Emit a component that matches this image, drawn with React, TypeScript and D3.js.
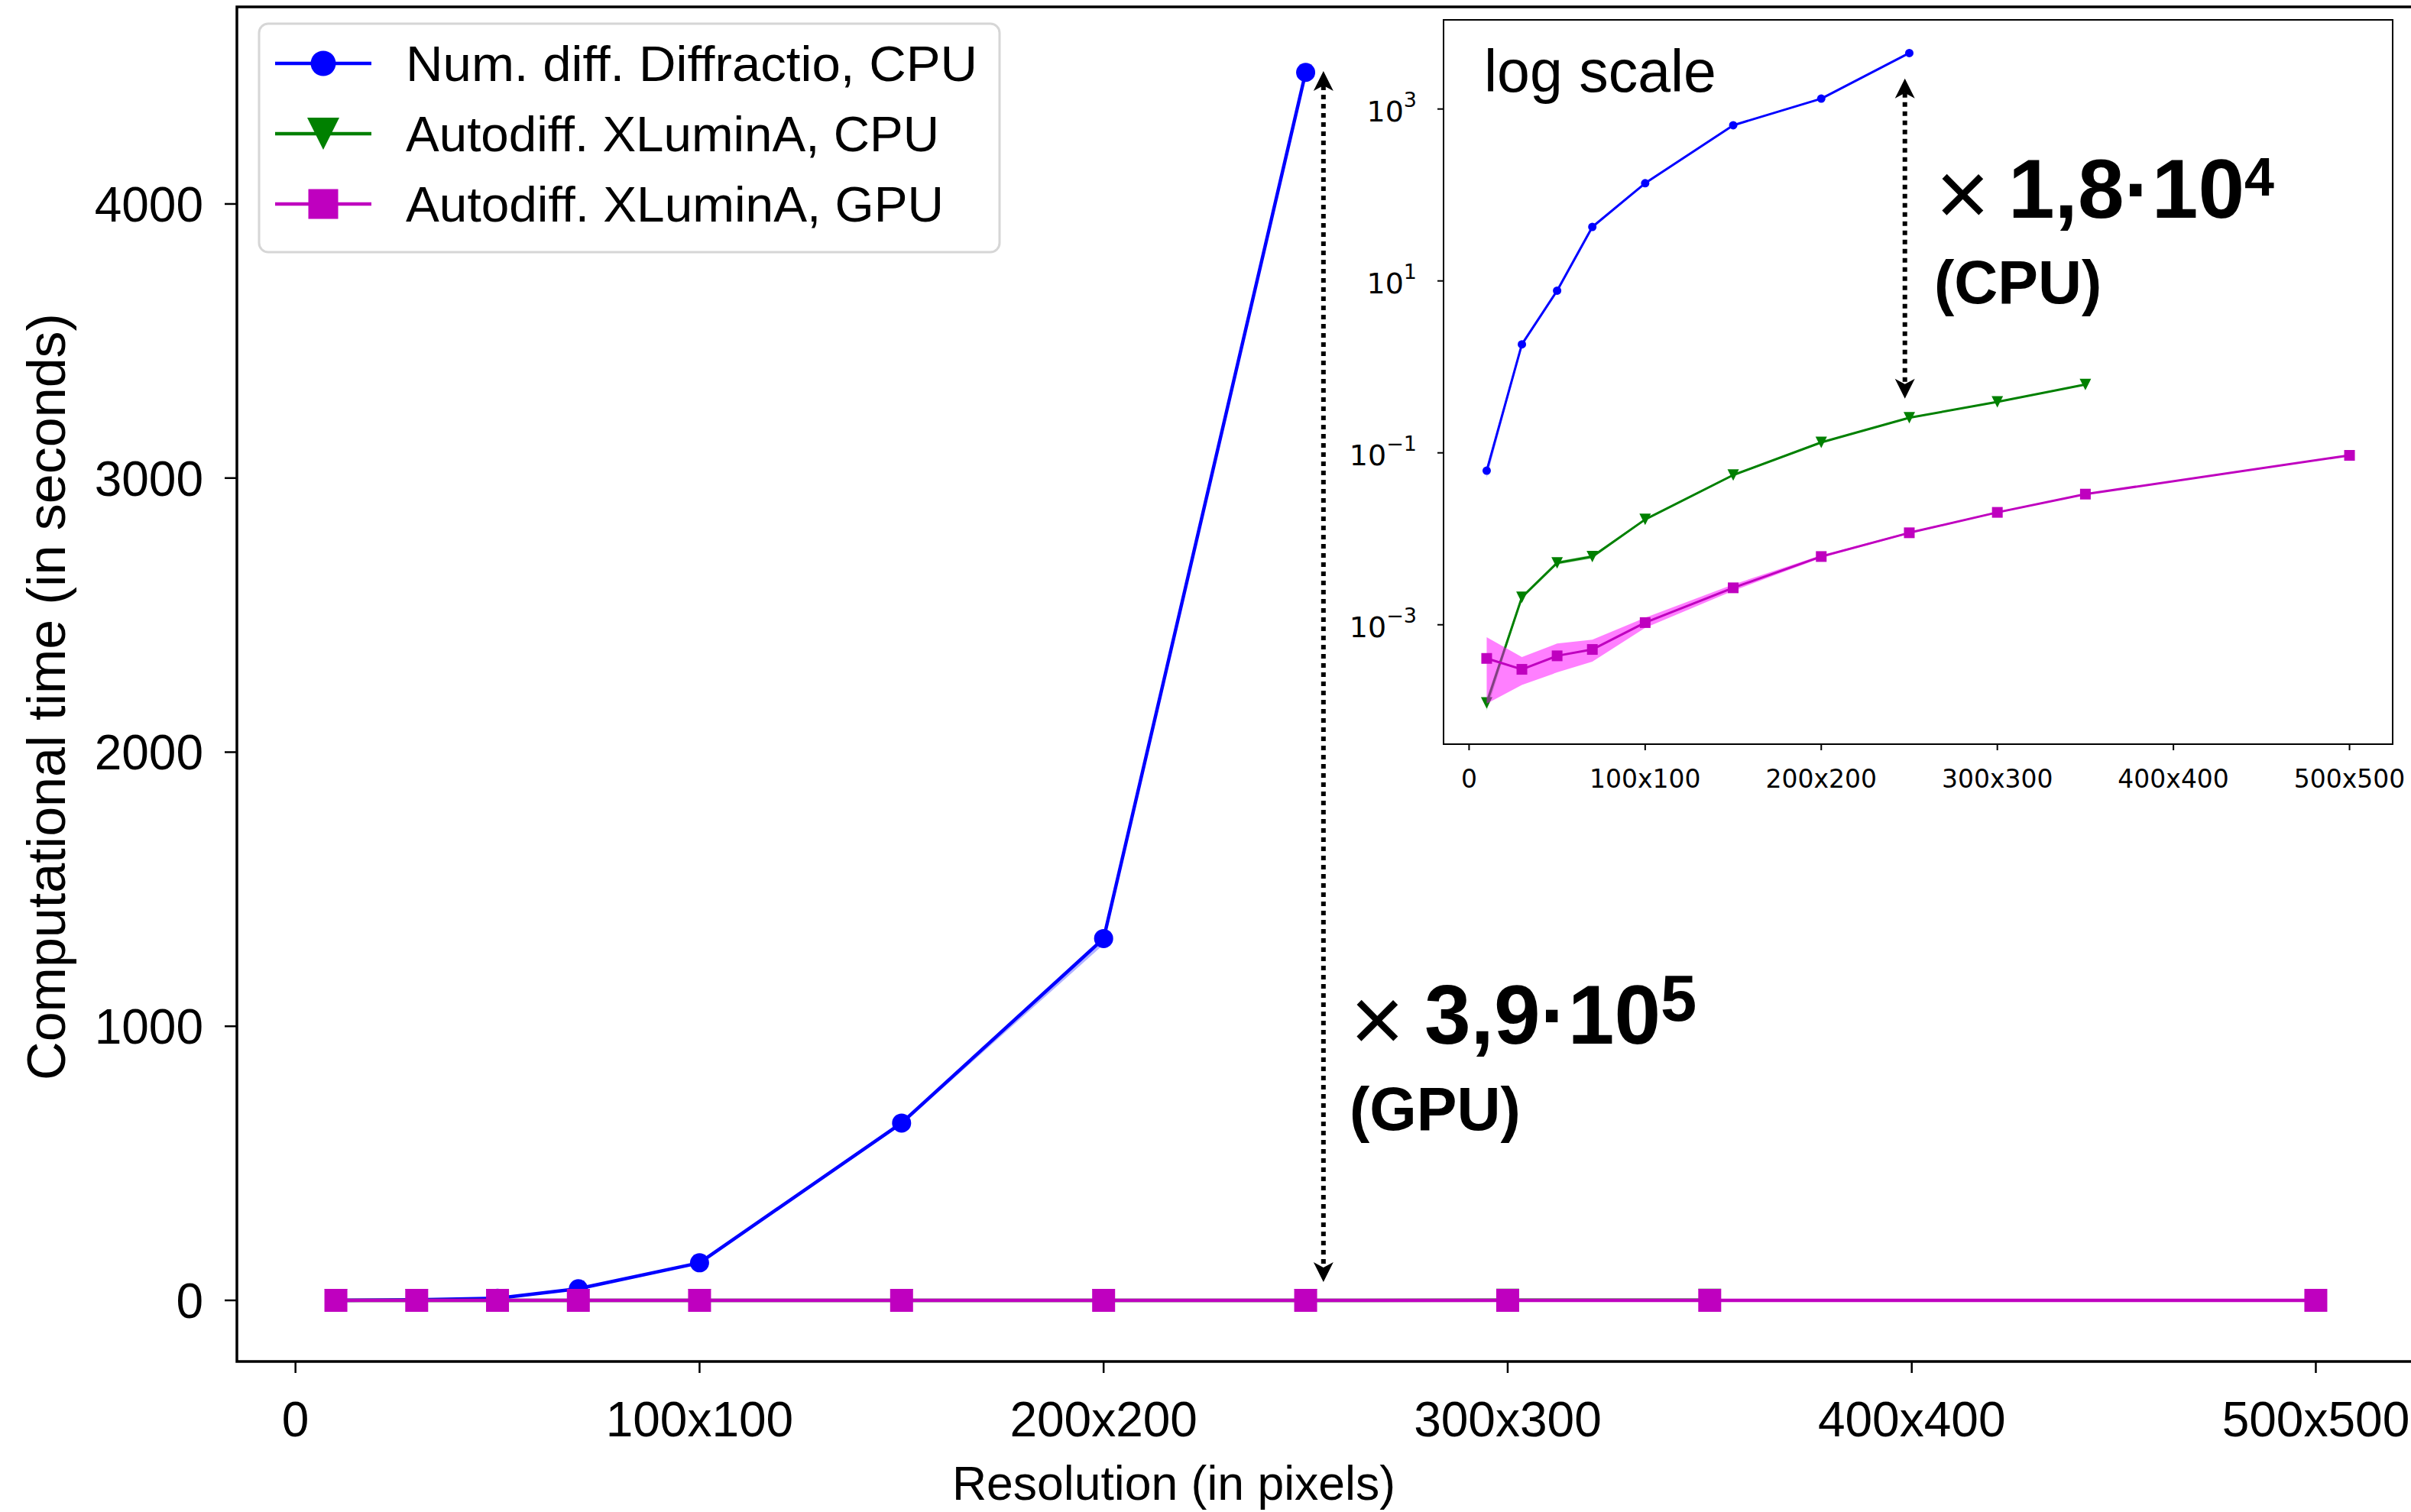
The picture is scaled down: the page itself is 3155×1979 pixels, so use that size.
import React from 'react';
import * as d3 from 'd3';

// ---------- data ----------
const resolutions = [10, 30, 50, 70, 100, 150, 200, 250, 300, 350, 500];
const diffractioCPU = [0.062, 1.83, 7.7, 42.5, 137, 647, 1320, 4480];
const diffractioLo = [0.051, 1.75, 7.5, 41.5, 134, 640, 1298, 4465];
const diffractioHi = [0.068, 1.9, 7.9, 43.5, 140, 655, 1328, 4496];
const xluminaCPU = [1.23e-4, 2.09e-3, 5.25e-3, 6.2e-3, 0.0168, 0.0552, 0.1324, 0.256, 0.392, 0.623];
const xluminaCPULo = [1.0e-4, 2.0e-3, 5.0e-3, 5.9e-3, 0.0164, 0.054, 0.13, 0.252, 0.388, 0.617];
const xluminaCPUHi = [1.4e-4, 2.2e-3, 5.5e-3, 6.5e-3, 0.0172, 0.0565, 0.135, 0.26, 0.397, 0.63];
const xluminaGPU = [4.06e-4, 3.03e-4, 4.35e-4, 5.16e-4, 1.06e-3, 2.69e-3, 6.22e-3, 0.01175, 0.0203, 0.0331, 0.0935];
const xluminaGPULo = [1.21e-4, 1.99e-4, 2.79e-4, 3.72e-4, 9.2e-4, 2.49e-3, 6.0e-3, 0.0115, 0.0199, 0.0326, 0.0925];
const xluminaGPUHi = [7.16e-4, 4.2e-4, 6.04e-4, 6.7e-4, 1.21e-3, 2.94e-3, 6.45e-3, 0.012, 0.0207, 0.0336, 0.0945];

const seriesLabels = ['Num. diff. Diffractio, CPU', 'Autodiff. XLuminA, CPU', 'Autodiff. XLuminA, GPU'];
const xTickValues = [0, 100, 200, 300, 400, 500];
const xTickLabels = ['0', '100x100', '200x200', '300x300', '400x400', '500x500'];
const yTickValues = [0, 1000, 2000, 3000, 4000];
const logTickExponents = [3, 1, -1, -3];

const W = 3155;
const H = 1979;
const SANS = '"Liberation Sans", Arial, Helvetica, sans-serif';
const DEJAVU = '"DejaVu Sans", sans-serif';

type Series = {
  ys: number[]; lo: number[]; hi: number[]; color: string; band: string; bandOpacity: number; marker: 'circle' | 'tri' | 'square';
};

const series: Series[] = [
  { ys: diffractioCPU, lo: diffractioLo, hi: diffractioHi, color: '#0000ff', band: '#0000ff', bandOpacity: 0.3, marker: 'circle' },
  { ys: xluminaCPU, lo: xluminaCPULo, hi: xluminaCPUHi, color: '#008000', band: '#008000', bandOpacity: 0.3, marker: 'tri' },
  { ys: xluminaGPU, lo: xluminaGPULo, hi: xluminaGPUHi, color: '#bf00bf', band: '#ff00ff', bandOpacity: 0.5, marker: 'square' },
];

function Marker({ kind, x, y, size, color }: { kind: string; x: number; y: number; size: number; color: string }) {
  const s = size / 2;
  if (kind === 'circle') return <circle cx={x} cy={y} r={s} fill={color} />;
  if (kind === 'square') return <rect x={x - s} y={y - s} width={size} height={size} fill={color} />;
  return <path d={`M${x - s},${y - s}L${x + s},${y - s}L${x},${y + s}Z`} fill={color} />;
}

function Arrow({ x, y1, y2, head = 26, w = 13, notch = 19 }: { x: number; y1: number; y2: number; head?: number; w?: number; notch?: number }) {
  return (
    <g>
      <line x1={x} x2={x} y1={y1 + notch} y2={y2 - notch} stroke="#000" strokeWidth={6} strokeDasharray="6,6" />
      <path d={`M${x},${y1}L${x + w},${y1 + head}L${x},${y1 + notch}L${x - w},${y1 + head}Z`} fill="#000" />
      <path d={`M${x},${y2}L${x + w},${y2 - head}L${x},${y2 - notch}L${x - w},${y2 - head}Z`} fill="#000" />
    </g>
  );
}

export default function App() {
  // main axes
  const mx = d3.scaleLinear().domain([-14.5, 524.5]).range([310, 3160]);
  const my = d3.scaleLinear().domain([-223, 4719]).range([1782, 9]);
  // inset axes
  const ix = d3.scaleLinear().domain([-14.5, 524.5]).range([1889, 3131]);
  const iy = d3.scaleLog().domain([Math.pow(10, -4.389), Math.pow(10, 4.037)]).range([974, 26]);

  const drawSeries = (sx: any, sy: any, lw: number, msize: number[], keyp: string) =>
    series.map((s, si) => {
      const pts = s.ys.map((v, i) => [resolutions[i], v, s.lo[i], s.hi[i]]);
      const line = d3.line<number[]>().x(d => sx(d[0])).y(d => sy(d[1]));
      const area = d3.area<number[]>().x(d => sx(d[0])).y0(d => sy(d[2])).y1(d => sy(d[3]));
      return (
        <g key={keyp + si}>
          <path d={area(pts) || ''} fill={s.band} fillOpacity={s.bandOpacity} stroke="none" />
          <path d={line(pts) || ''} fill="none" stroke={s.color} strokeWidth={lw} strokeLinejoin="round" />
          {pts.map((p, i) => (
            <Marker key={i} kind={s.marker} x={sx(p[0])} y={sy(p[1])} size={msize[si]} color={s.color} />
          ))}
        </g>
      );
    });

  const legendRows = [83, 175, 267];
  const legendMarkerSize = [33, 42, 39];
  const legendTextWidths = [748, 698, 704];

  return (
    <svg width={W} height={H} style={{ position: 'absolute', left: 0, top: 0, background: '#fff' }} xmlns="http://www.w3.org/2000/svg">
      <rect x={0} y={0} width={W} height={H} fill="#fff" />

      {/* main data */}
      {drawSeries(mx, my, 4.5, [25, 30, 30], 'm')}

      {/* main frame */}
      <rect x={310} y={9} width={3160 - 310} height={1782 - 9} fill="none" stroke="#000" strokeWidth={3.5} />

      {/* main y ticks */}
      {yTickValues.map(v => (
        <g key={'yt' + v}>
          <line x1={294} x2={310} y1={my(v)} y2={my(v)} stroke="#000" strokeWidth={2.5} />
          <text x={266} y={my(v) + 23} textAnchor="end" fontFamily={SANS} fontSize={64}>{String(v)}</text>
        </g>
      ))}
      {/* main x ticks */}
      {xTickValues.map((v, i) => (
        <g key={'xt' + v}>
          <line x1={mx(v)} x2={mx(v)} y1={1782} y2={1797} stroke="#000" strokeWidth={2.5} />
          <text x={mx(v)} y={1880} textAnchor="middle" fontFamily={SANS} fontSize={64}>{xTickLabels[i]}</text>
        </g>
      ))}
      <text x={1536} y={1963} textAnchor="middle" fontFamily={SANS} fontSize={62.5}>Resolution (in pixels)</text>
      <text transform="translate(85,912) rotate(-90)" textAnchor="middle" fontFamily={SANS} fontSize={70}>Computational time (in seconds)</text>

      {/* legend */}
      <rect x={339} y={31} width={969} height={299} rx={12} ry={12} fill="#fff" fillOpacity={0.8} stroke="#d6d6d6" strokeWidth={3} />
      {series.map((s, i) => (
        <g key={'lg' + i}>
          <line x1={360} x2={486} y1={legendRows[i]} y2={legendRows[i]} stroke={s.color} strokeWidth={4.5} />
          <Marker kind={s.marker} x={423} y={legendRows[i]} size={legendMarkerSize[i]} color={s.color} />
          <text x={531} y={legendRows[i] + 22.5} fontFamily={SANS} fontSize={64} textLength={legendTextWidths[i]} lengthAdjust="spacingAndGlyphs">{seriesLabels[i]}</text>
        </g>
      ))}

      {/* main annotation */}
      <Arrow x={mx(254.4)} y1={my(4485)} y2={my(67)} />
      <text x={1767} y={1376} fontFamily={SANS} fontSize={121}>×</text>
      <text x={1864} y={1366} fontFamily={SANS} fontSize={109} fontWeight="bold">3,9·10<tspan fontSize={85} dy={-30}>5</tspan></text>
      <text x={1766} y={1479} fontFamily={SANS} fontSize={79} fontWeight="bold">(GPU)</text>

      {/* inset */}
      <rect x={1889} y={26} width={3131 - 1889} height={974 - 26} fill="#fff" stroke="none" />
      {drawSeries(ix, iy, 3, [11, 15, 14], 'i')}
      <rect x={1889} y={26} width={3131 - 1889} height={974 - 26} fill="none" stroke="#000" strokeWidth={2} />
      {xTickValues.map((v, i) => (
        <g key={'ixt' + v}>
          <line x1={ix(v)} x2={ix(v)} y1={974} y2={982} stroke="#000" strokeWidth={2} />
          <text x={ix(v)} y={1031} textAnchor="middle" fontFamily={DEJAVU} fontSize={33}>{xTickLabels[i]}</text>
        </g>
      ))}
      {logTickExponents.map(e => {
        const y = iy(Math.pow(10, e));
        const sup = e < 0 ? '\u2212' + String(-e) : String(e);
        return (
          <g key={'iyt' + e}>
            <line x1={1881} x2={1889} y1={y} y2={y} stroke="#000" strokeWidth={2} />
            <text x={1854} y={y + 16} textAnchor="end" fontFamily={DEJAVU} fontSize={38}>10<tspan fontSize={27} dy={-19}>{sup}</tspan></text>
          </g>
        );
      })}
      <text x={1942} y={120} fontFamily={SANS} fontSize={77}>log scale</text>

      {/* inset annotation */}
      <Arrow x={ix(247.5)} y1={iy(2265)} y2={iy(0.428)} />
      <text x={2533} y={295} fontFamily={SANS} fontSize={121}>×</text>
      <text x={2628} y={285} fontFamily={SANS} fontSize={109} fontWeight="bold">1,8·10<tspan fontSize={70} dy={-29}>4</tspan></text>
      <text x={2531} y={397} fontFamily={SANS} fontSize={79} fontWeight="bold">(CPU)</text>
    </svg>
  );
}
